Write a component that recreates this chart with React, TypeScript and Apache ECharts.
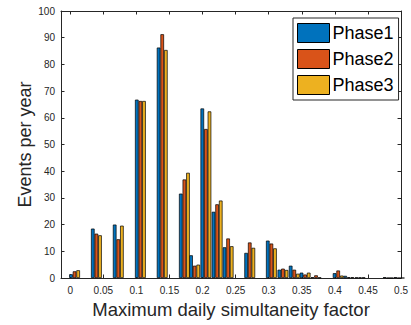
import React, { useEffect, useRef } from "react";
import * as echarts from "echarts";

const xCenters = [0.0065, 0.0395, 0.0726, 0.106, 0.139, 0.1725, 0.188, 0.205, 0.222, 0.2386, 0.2713, 0.304, 0.3215, 0.3386, 0.355, 0.3715, 0.405, 0.421, 0.438, 0.4805, 0.497];
const phase1 = [1.4, 18.5, 20.0, 66.8, 86.3, 31.6, 8.5, 63.5, 24.8, 11.5, 9.4, 14.0, 3.1, 4.6, 2.0, 0.3, 1.8, 0.8, 0.2, 0.3, 0.3];
const phase2 = [2.5, 16.6, 14.5, 66.3, 91.3, 36.9, 4.6, 55.8, 27.6, 14.8, 13.3, 12.9, 3.5, 3.1, 1.3, 1.0, 2.8, 0.3, 0.2, 0, 0];
const phase3 = [2.9, 16.0, 19.6, 66.3, 85.4, 39.4, 5.0, 62.4, 29.0, 11.9, 11.3, 11.1, 3.0, 1.6, 2.0, 0.2, 0.9, 0.3, 0.2, 0, 0];
const seriesNames = ["Phase1", "Phase2", "Phase3"];
const colors = ["#0072BD", "#D95319", "#EDB120"];
const xTicks = [0, 0.05, 0.1, 0.15, 0.2, 0.25, 0.3, 0.35, 0.4, 0.45, 0.5];

const FONT = "'Liberation Sans', Arial, Helvetica, sans-serif";
const AX = "#262626";

export default function App() {
  const ref = useRef<HTMLDivElement>(null);
  useEffect(() => {
    if (!ref.current) return;
    const chart = echarts.init(ref.current, null, { renderer: "svg" });
    const allSeries = [phase1, phase2, phase3];
    const xAxisCommon = {
      type: "value" as const,
      min: -0.014,
      max: 0.5,
      splitLine: { show: false },
      axisLine: { show: true, onZero: false, lineStyle: { color: AX, width: 1 } },
      axisTick: { show: true, inside: true, length: 3.5, customValues: xTicks, lineStyle: { color: AX } },
    };
    const yAxisCommon = {
      type: "value" as const,
      min: 0,
      max: 100,
      interval: 10,
      splitLine: { show: false },
      axisLine: { show: true, onZero: false, lineStyle: { color: AX, width: 1 } },
      axisTick: { show: true, inside: true, length: 3.5, lineStyle: { color: AX } },
    };
    chart.setOption({
      animation: false,
      backgroundColor: "#fff",
      textStyle: { fontFamily: FONT },
      grid: { left: 61, right: 8, top: 11, bottom: 47, containLabel: false },
      legend: {
        data: seriesNames,
        orient: "vertical",
        left: 293,
        top: 18,
        padding: [5, 5, 5, 4],
        itemGap: 6,
        itemWidth: 32,
        itemHeight: 19,
        icon: "rect",
        backgroundColor: "#fff",
        borderColor: AX,
        borderWidth: 1,
        borderRadius: 0,
        itemStyle: { borderColor: "#000", borderWidth: 1 },
        textStyle: { fontSize: 18, color: "#000", fontFamily: FONT, padding: [0, 0, 0, -2] },
      },
      xAxis: [
        {
          ...xAxisCommon,
          position: "bottom",
          name: "Maximum daily simultaneity factor",
          nameLocation: "middle",
          nameGap: 22,
          nameMoveOverlap: false,
          nameTextStyle: { fontSize: 18.5, color: AX, fontFamily: FONT },
          axisLabel: {
            show: true,
            customValues: xTicks,
            fontSize: 10,
            color: AX,
            margin: 7,
            fontFamily: FONT,
            formatter: (v: number) => String(parseFloat(v.toFixed(2))),
          },
        },
        {
          ...xAxisCommon,
          position: "top",
          axisLabel: { show: false },
        },
      ],
      yAxis: [
        {
          ...yAxisCommon,
          position: "left",
          name: "Events per year",
          nameLocation: "middle",
          nameGap: 27,
          nameMoveOverlap: false,
          nameTextStyle: { fontSize: 18, color: AX, fontFamily: FONT },
          axisLabel: { show: true, fontSize: 10, color: AX, margin: 6, fontFamily: FONT },
        },
        {
          ...yAxisCommon,
          position: "right",
          axisLabel: { show: false },
        },
      ],
      series: allSeries.map((vals, s) => ({
        name: seriesNames[s],
        type: "bar",
        xAxisIndex: 0,
        yAxisIndex: 0,
        barWidth: 3.6,
        barGap: "0%",
        itemStyle: { color: colors[s], borderColor: "#000", borderWidth: 0.7 },
        data: xCenters.map((x, i) => [x, vals[i]]),
      })),
    });
    return () => chart.dispose();
  }, []);
  return <div ref={ref} style={{ position: "fixed", left: 0, top: 0, width: 411, height: 325 }} />;
}
